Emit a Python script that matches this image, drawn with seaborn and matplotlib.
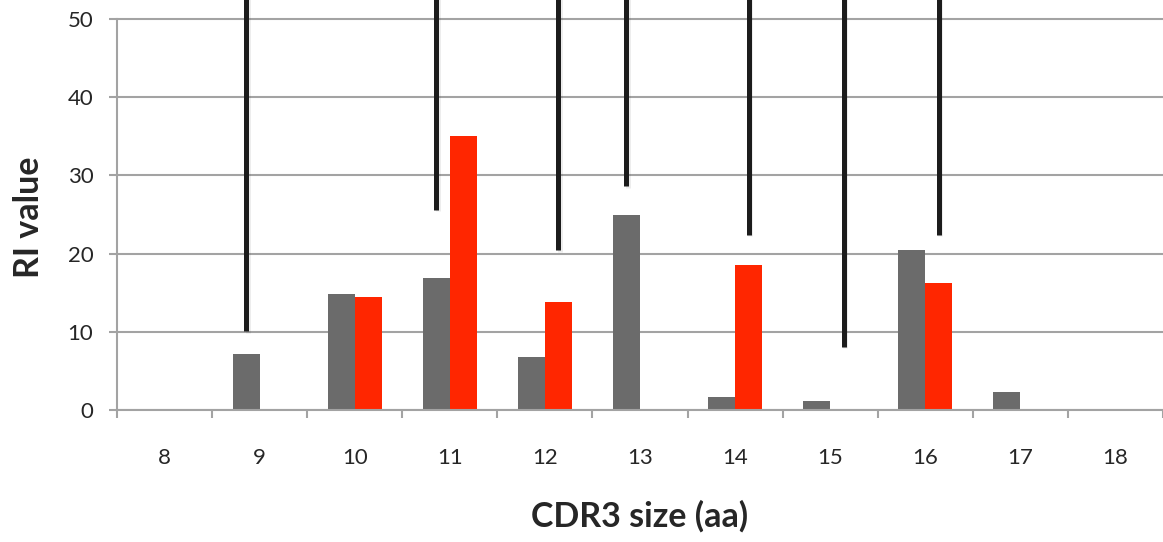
import numpy as np
import pandas as pd
import matplotlib
matplotlib.use("Agg")
import matplotlib.pyplot as plt
import matplotlib.patheffects as pe
import seaborn as sns

# values
cdr3_sizes = ["8", "9", "10", "11", "12", "13", "14", "15", "16", "17", "18"]
gray_values = [0, 7.2, 14.8, 16.9, 6.8, 25.0, 1.6, 1.2, 20.5, 2.3, 0]
red_values = [0, 0, 14.5, 35.0, 13.8, 0, 18.5, 0, 16.3, 0, 0]

# black vertical lines hanging from the top: category, series, lower end
line_sizes = ["9", "11", "12", "13", "14", "15", "16"]
line_series = ["gray", "gray", "red", "gray", "red", "red", "red"]
line_bottoms = [10.1, 25.6, 20.4, 28.6, 22.4, 8.1, 22.4]

y_ticks = [0, 10, 20, 30, 40, 50]

df = pd.DataFrame({
    "size": cdr3_sizes * 2,
    "value": gray_values + red_values,
    "series": ["gray"] * len(cdr3_sizes) + ["red"] * len(cdr3_sizes),
})

sns.set_theme(style="white")
plt.rcParams["font.family"] = ["Lato", "DejaVu Sans"]

fig = plt.figure(figsize=(11.63, 5.42), dpi=100)
ax = fig.add_axes([117 / 1163, 132 / 542, 1046 / 1163, 410 / 542])

grid_col = "#a3a3a3"
sns.barplot(data=df, x="size", y="value", hue="series", order=cdr3_sizes,
            hue_order=["gray", "red"], palette={"gray": "#6b6b6b", "red": "#ff2600"},
            width=0.57, linewidth=0, saturation=1, legend=False, ax=ax, zorder=3)

ax.set_xlim(-0.5, len(cdr3_sizes) - 0.5)
ax.set_ylim(0, 52.43)

# vertical black lines anchored on the bar they belong to
n = len(cdr3_sizes)
centers = {}
for i, p in enumerate(ax.patches[:2 * n]):
    s = "gray" if i < n else "red"
    centers[(cdr3_sizes[i % n], s)] = p.get_x() + p.get_width() / 2
lx = [centers[(c, s)] for c, s in zip(line_sizes, line_series)]
ax.vlines(lx, line_bottoms, 60, colors="#1c1c1c", linewidth=3.6, zorder=4,
          capstyle="butt",
          path_effects=[pe.SimpleLineShadow(offset=(1.2, -1.2), alpha=0.08), pe.Normal()])

ax.set_yticks(y_ticks)
ax.set_yticklabels([str(t) for t in y_ticks], fontsize=16)
ax.yaxis.grid(True, color=grid_col, linewidth=1.5)
ax.set_axisbelow(True)
ax.tick_params(axis="y", left=True, length=6, width=1.5, color=grid_col, pad=11)

ax.set_xticks(range(n))
ax.set_xticklabels(cdr3_sizes, fontsize=16)
ax.set_xticks(np.arange(-0.5, n, 1), minor=True)
ax.tick_params(axis="x", which="major", length=0, pad=27)
ax.tick_params(axis="x", which="minor", bottom=True, length=6, width=1.5, color=grid_col)

for side in ["top", "right"]:
    ax.spines[side].set_visible(False)
ax.spines["left"].set_bounds(0, 50)
ax.spines["left"].set_color(grid_col)
ax.spines["left"].set_linewidth(1.5)
ax.spines["bottom"].set_color(grid_col)
ax.spines["bottom"].set_linewidth(1.5)
ax.spines["bottom"].set_zorder(5)

ax.set_xlabel("")
ax.set_ylabel("")
fig.text(640 / 1163, 1 - 516 / 542, "CDR3 size (aa)", fontsize=24.5, fontweight="bold",
         ha="center", va="center")
fig.text(29 / 1163, 1 - 217 / 542, "RI value", fontsize=24.5, fontweight="bold",
         ha="center", va="center", rotation=90)

fig.savefig("out.png", dpi=100)
